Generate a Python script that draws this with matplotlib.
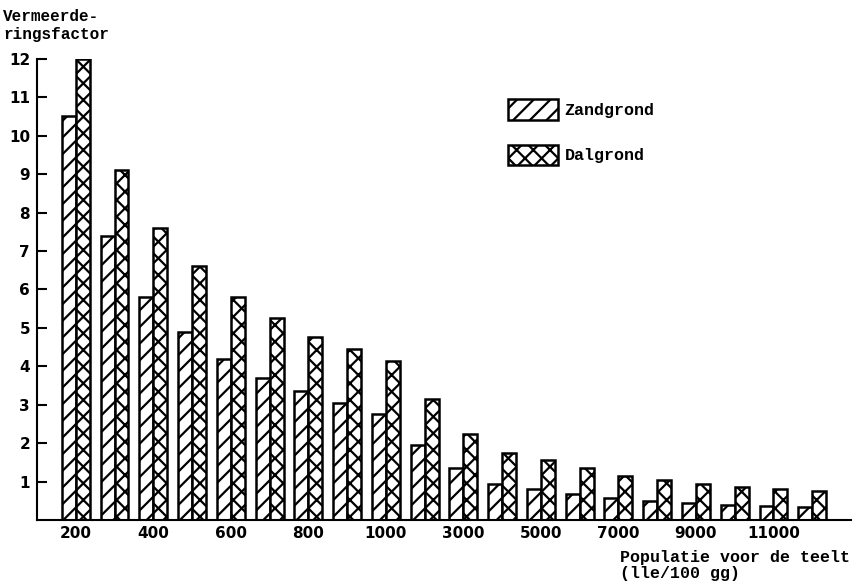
import matplotlib.pyplot as plt
import numpy as np

plt.rcParams['hatch.linewidth'] = 1.6

# populatie voor de teelt (lle/100 gg)
populatie = [200, 300, 400, 500, 600, 700, 800, 900, 1000, 2000,
             3000, 4000, 5000, 6000, 7000, 8000, 9000, 10000, 11000, 12000]
zandgrond = [10.5, 7.4, 5.8, 4.9, 4.2, 3.7, 3.35, 3.05, 2.75, 1.95,
             1.35, 0.95, 0.8, 0.68, 0.58, 0.5, 0.45, 0.38, 0.36, 0.33]
dalgrond = [12.0, 9.1, 7.6, 6.6, 5.8, 5.25, 4.75, 4.45, 4.15, 3.15,
            2.25, 1.75, 1.55, 1.35, 1.15, 1.05, 0.95, 0.87, 0.81, 0.76]
yticks = list(range(1, 13))

mono = 'Liberation Mono'
x = np.arange(len(populatie))
w = 0.36

fig = plt.figure(figsize=(8.55, 5.86), dpi=100)
ax = fig.add_axes([0.0433, 0.1126, 0.952, 0.787])

ax.bar(x - w / 2, zandgrond, w, color='white', edgecolor='black',
       linewidth=1.8, hatch='//', label='Zandgrond')
ax.bar(x + w / 2, dalgrond, w, color='white', edgecolor='black',
       linewidth=1.8, hatch='xx', label='Dalgrond')

ax.set_xlim(-1, 20)
ax.set_ylim(0, 12)
ax.spines['top'].set_visible(False)
ax.spines['right'].set_visible(False)
ax.spines['left'].set_linewidth(1.5)
ax.spines['bottom'].set_linewidth(1.5)

ax.set_yticks(yticks)
ax.set_yticklabels([str(t) for t in yticks], fontsize=11, fontweight='bold')
ax.tick_params(axis='y', direction='in', length=7, width=1.5, pad=5)

ax.set_xticks(x[::2])
ax.set_xticklabels([str(p) for p in populatie[::2]], fontsize=11, fontweight='bold')
ax.tick_params(axis='x', length=0, pad=4)

fig.text(0.004, 0.985, 'Vermeerde-\nringsfactor', family=mono, fontweight='bold',
         fontsize=11.5, va='top', ha='left', linespacing=1.3)
fig.text(0.725, 0.062, 'Populatie voor de teelt\n(lle/100 gg)', family=mono,
         fontweight='bold', fontsize=12, va='top', ha='left', linespacing=1.15)

ax.legend(loc='upper left', bbox_to_anchor=(0.56, 0.945), frameon=False,
          handlelength=3.0, handleheight=1.5, labelspacing=1.5, handletextpad=0.4,
          prop={'family': mono, 'weight': 'bold', 'size': 12})

fig.savefig('out.png', dpi=100)
